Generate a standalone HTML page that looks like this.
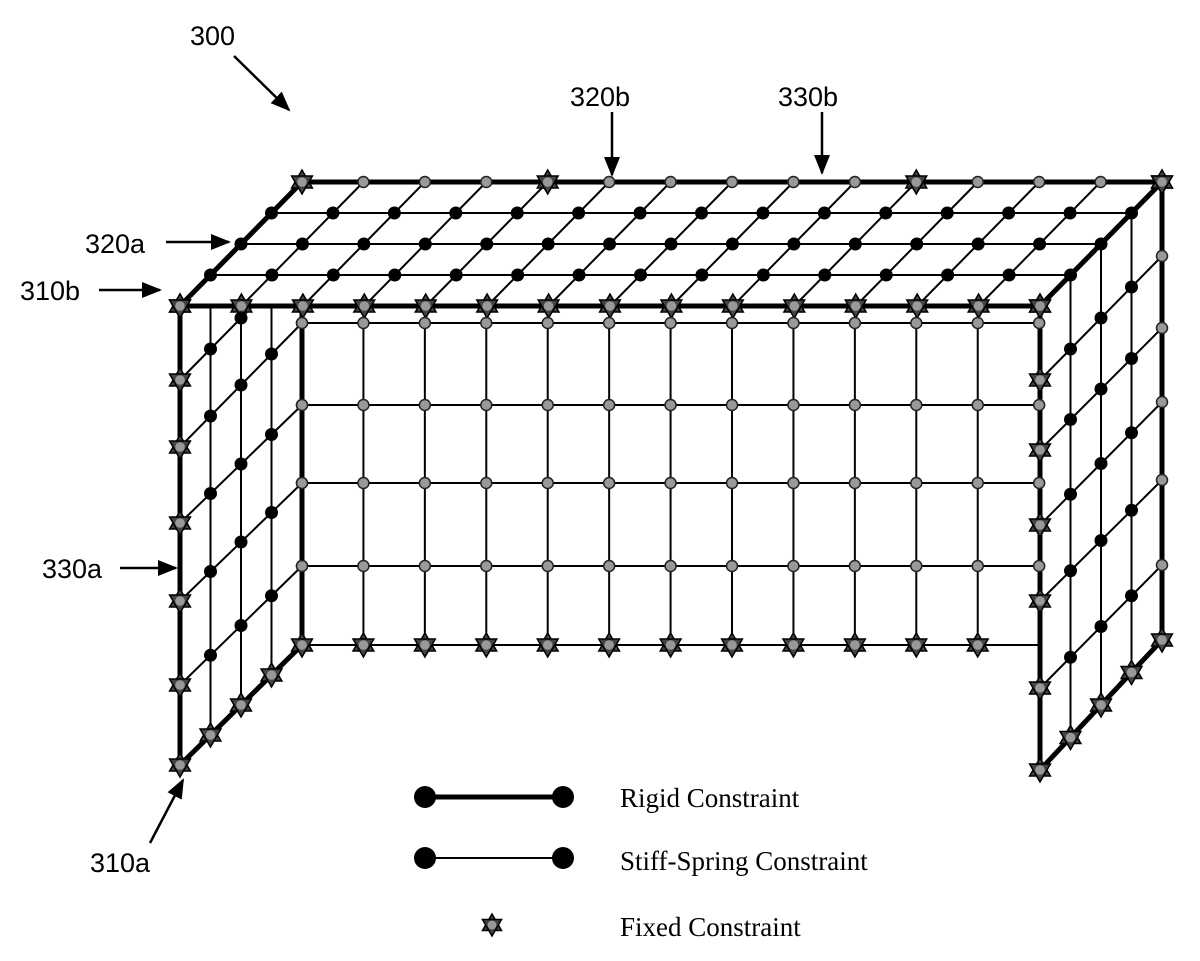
<!DOCTYPE html>
<html><head><meta charset="utf-8"><style>
html,body{margin:0;padding:0;background:#fff;}
svg{display:block;}
.lab{font-family:"Liberation Sans",Arial,sans-serif;font-size:27px;fill:#000;}
.leg{font-family:"Liberation Serif","Times New Roman",serif;font-size:27px;fill:#000;}
</style></head><body>
<svg id="s" width="1200" height="961" viewBox="0 0 1200 961" xmlns="http://www.w3.org/2000/svg">
<defs>
<marker id="ah" markerWidth="20" markerHeight="16" refX="18" refY="8" orient="auto" markerUnits="userSpaceOnUse" viewBox="0 0 20 16">
<path d="M0,0 L20,8 L0,16 z" fill="#000"/></marker>
</defs>
<g id="thin" stroke="#000" stroke-width="2" fill="none"></g>
<g id="thick" stroke="#000" stroke-width="5" fill="none"></g>
<g id="nodes"></g>
<text class="lab" x="190" y="45">300</text>
<line x1="234" y1="56" x2="289" y2="110" stroke="#000" stroke-width="2.5" marker-end="url(#ah)"/>
<text class="lab" x="570" y="106">320b</text>
<line x1="612" y1="112" x2="612" y2="175" stroke="#000" stroke-width="2.5" marker-end="url(#ah)"/>
<text class="lab" x="778" y="106">330b</text>
<line x1="822" y1="112" x2="822" y2="173" stroke="#000" stroke-width="2.5" marker-end="url(#ah)"/>
<text class="lab" x="85" y="253">320a</text>
<line x1="166" y1="242" x2="229" y2="242" stroke="#000" stroke-width="2.5" marker-end="url(#ah)"/>
<text class="lab" x="20" y="300">310b</text>
<line x1="99" y1="290" x2="160" y2="290" stroke="#000" stroke-width="2.5" marker-end="url(#ah)"/>
<text class="lab" x="42" y="578">330a</text>
<line x1="120" y1="568" x2="176" y2="568" stroke="#000" stroke-width="2.5" marker-end="url(#ah)"/>
<text class="lab" x="90" y="872">310a</text>
<line x1="150" y1="843" x2="183" y2="780" stroke="#000" stroke-width="2.5" marker-end="url(#ah)"/>
<line x1="425" y1="797" x2="563" y2="797" stroke="#000" stroke-width="5"/>
<circle cx="425" cy="797" r="11" fill="#000"/><circle cx="563" cy="797" r="11" fill="#000"/>
<text class="leg" x="620" y="807">Rigid Constraint</text>
<line x1="425" y1="858" x2="563" y2="858" stroke="#000" stroke-width="2"/>
<circle cx="425" cy="858" r="11" fill="#000"/><circle cx="563" cy="858" r="11" fill="#000"/>
<text class="leg" x="620" y="870">Stiff-Spring Constraint</text>
<g id="legstar"></g>
<text class="leg" x="620" y="936">Fixed Constraint</text>
</svg>
<script>
var NS="http://www.w3.org/2000/svg";
function el(p,t,a){var e=document.createElementNS(NS,t);for(var k in a)e.setAttribute(k,a[k]);document.getElementById(p).appendChild(e);return e;}
function L(g,x1,y1,x2,y2){el(g,"line",{x1:x1,y1:y1,x2:x2,y2:y2});}
function dot(x,y){el("nodes","circle",{cx:x,cy:y,r:6.5,fill:"#000"});}
function gray(x,y){el("nodes","circle",{cx:x,cy:y,r:5.5,fill:"#999",stroke:"#222","stroke-width":1.5});}
function star(x,y,g,r){g=g||"nodes";r=r||12;var a=[],b=[];for(var i=0;i<3;i++){var t=-Math.PI/2+i*2*Math.PI/3;a.push((x+r*Math.cos(t)).toFixed(1)+","+(y+r*Math.sin(t)).toFixed(1));var t2=Math.PI/2+i*2*Math.PI/3;b.push((x+r*Math.cos(t2)).toFixed(1)+","+(y+r*Math.sin(t2)).toFixed(1));}
el(g,"polygon",{points:a.join(" "),fill:"#444",stroke:"#000","stroke-width":1.5});el(g,"polygon",{points:b.join(" "),fill:"#444",stroke:"#000","stroke-width":1.5});el(g,"circle",{cx:x,cy:y,r:r*0.4,fill:"#999"});}
var W=61.43,DX=122,DY=-124;
// top face
for(var i=0;i<=14;i++){var x=180+W*i;if(i==0||i==14)L("thick",x,306,x+DX,306+DY);else L("thin",x,306,x+DX,306+DY);}
L("thick",180,306,1040,306);L("thick",302,182,1162,182);
for(var f=1;f<=3;f++){var ox=DX*f/4,oy=306+DY*f/4;L("thin",180+ox,oy,1040+ox,oy);for(var i=0;i<=14;i++)dot(180+W*i+ox,oy);}
for(var i=0;i<=14;i++){star(180+W*i,306);var bx=302+W*i;if(i==0||i==4||i==10||i==14)star(bx,182);else gray(bx,182);}
// back wall
var rows=[323,405,483,566,645];
for(var k=1;k<12;k++){L("thin",302+W*k,306,302+W*k,645);}
rows.forEach(function(y){L("thin",302,y,1040,y);});
for(var k=0;k<=12;k++){var x=302+W*k;for(var r=0;r<4;r++)gray(x,rows[r]);if(k>0&&k<12)star(x,645);}
L("thick",302,306,302,645);
// side faces
function side(fx,fy,by,clipTop){
 for(var j=1;j<=3;j++){var x=fx+DX*j/4;var top=clipTop?306:306-(x-fx)*124/122;var bot=fy[fy.length-1]+(by[by.length-1]-fy[fy.length-1])*j/4;L("thin",x,top,x,bot);}
 for(var r=0;r<fy.length;r++){var last=(r==fy.length-1);var s=(by[r]-fy[r])/DX;
  if(clipTop&&r==0){var xe=fx+(fy[r]-306)/(-s);L("thin",fx,fy[r],xe,306);star(fx,fy[r]);for(var j=1;j<=4;j++){var x=fx+DX*j/4;if(x<xe-8)dot(x,fy[r]+s*(x-fx));}continue;}
  L(last?"thick":"thin",fx,fy[r],fx+DX,by[r]);
  for(var j=0;j<=4;j++){var x=fx+DX*j/4,y=fy[r]+(by[r]-fy[r])*j/4;if(j==0||last)star(x,y);else if(j==4)gray(x,y);else dot(x,y);}}
}
L("thick",180,306,180,765);
side(180,[380,447,523,601,685,765],[256,323,405,483,566,645],true);
L("thick",1040,302,1040,770);L("thick",1162,182,1162,640);
side(1040,[380,450,525,601,688,770],[256,328,402,480,565,640],false);
star(1162,182);star(1040,306);star(180,306);
star(492,925,"legstar",11);
</script>
</body></html>
